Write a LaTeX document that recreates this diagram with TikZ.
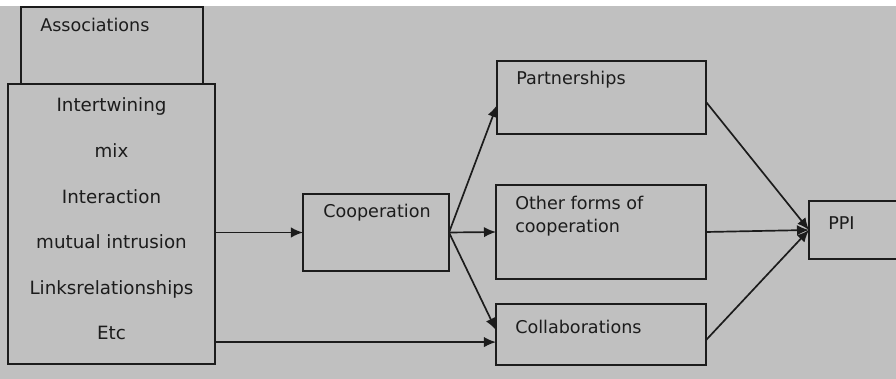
\documentclass[tikz,border=0pt]{standalone}
\usepackage{fontspec}
\setmainfont{DejaVu Sans}
\usepackage{tikz}
\usetikzlibrary{positioning}
\usetikzlibrary{arrows.meta}
\definecolor{panelgray}{HTML}{C0C0C0}
\definecolor{inkline}{HTML}{1C1C1C}
\tikzset{%
  arr/.style = {-{Latex[length=3mm,width=2.6mm]},draw=inkline,line width=1.2pt},
  box/.style = {rectangle,draw=inkline,line width=1.2pt,inner sep=0pt,
        outer sep=0pt,text=inkline},
  lbl/.style = {anchor=west,inner sep=0pt,text=inkline,
        font=\fontsize{12.5}{16.3}\selectfont,align=left}
}

\begin{document}
\begin{tikzpicture}[x=0.025cm,y=-0.025cm]
  \useasboundingbox (0,0) rectangle (896,379);
  \fill[panelgray] (0,6) rectangle (896,379);

  \node[box,minimum width=4.55cm,minimum height=1.925cm,
        label={[lbl,xshift=0.475cm,yshift=-0.45cm]north west:Associations}]
        (assoc) at (112,45.5) {};
  \node[box,fill=panelgray,minimum width=5.175cm,minimum height=7cm,
        label={[inner sep=0pt,text=inkline,align=center,yshift=0.125cm,
        font=\fontsize{13}{32.4}\selectfont]center:Intertwining\\mix\\Interaction\\mutual intrusion\\Linksrelationships\\Etc}]
        (ties) at (111.5,224) {};
  \node[box,minimum width=3.65cm,minimum height=1.925cm,
        label={[lbl,xshift=0.5cm,yshift=-0.475cm]north west:Cooperation}]
        (coop) at (376,232.5) {};
  \node[box,minimum width=5.225cm,minimum height=1.825cm,
        label={[lbl,xshift=0.475cm,yshift=-0.475cm]north west:Partnerships}]
        (partner) at (601.5,97.5) {};
  \node[box,minimum width=5.25cm,minimum height=2.35cm,
        label={[lbl,xshift=0.475cm,yshift=-0.79cm]north west:Other forms of\\cooperation}]
        (other) at (601,232) {};
  \node[box,minimum width=5.25cm,minimum height=1.525cm,
        label={[lbl,xshift=0.475cm,yshift=-0.575cm]north west:Collaborations}]
        (collab) at (601,334.5) {};
  \node[box,minimum width=2.275cm,minimum height=1.45cm,
        label={[lbl,xshift=0.475cm,yshift=-0.55cm]north west:PPI}]
        (ppi) at (854.5,230) {};

  \coordinate (collab in) at ([yshift=-0.19cm]collab.west);
  \coordinate (collab top) at ([yshift=0.11cm]collab.west);
  \coordinate (partner in) at ([yshift=-0.19cm]partner.west);
  \coordinate (partner out) at ([yshift=-0.11cm]partner.east);
  \coordinate (collab out) at ([yshift=-0.14cm]collab.east);

  \draw[arr] (ties.east |- coop.west) -- (coop.west);
  \draw[arr] (ties.east |- collab in) -- (collab in);
  \draw[arr] (coop.east) -- (partner in);
  \draw[arr] (coop.east) -- (other.west);
  \draw[arr] (coop.east) -- (collab top);
  \draw[arr] (partner out) -- (ppi.west);
  \draw[arr] (other.east) -- (ppi.west);
  \draw[arr] (collab out) -- (ppi.west);
\end{tikzpicture}
\end{document}
